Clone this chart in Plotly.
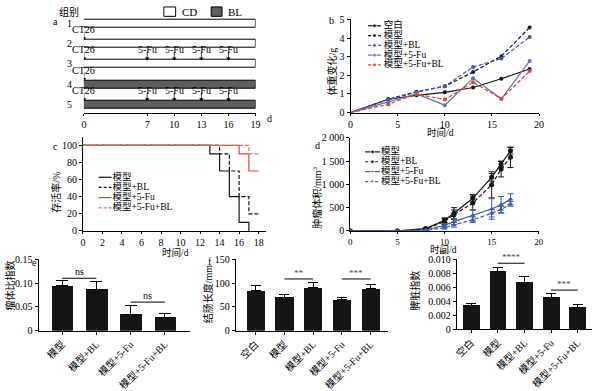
import plotly.graph_objects as go

W, H = 600, 391
FONT = "Liberation Serif, 'Noto Sans CJK SC', serif"

# ---------------- data ----------------
# panel a (experiment timeline)
a_groups = [1, 2, 3, 4, 5]
a_group_labels = ["1", "2", "3", "4", "5"]
a_diet = ["CD", "CD", "CD", "BL", "BL"]
a_end_day = 19
a_ct26_groups = [2, 3, 4, 5]
a_fu_groups = [3, 5]
a_fu_days = [7, 10, 13, 16]
a_ticks = [0, 7, 10, 13, 16, 19]

# panel b (body weight change, g)
b_days = [0, 4, 7, 10, 13, 16, 19]
b_names = ["空白", "模型", "模型+BL", "模型+5-Fu", "模型+5-Fu+BL"]
b_blank = [0, 0.72, 0.93, 1.09, 1.35, 1.82, 2.34]
b_model = [0, 0.72, 1.12, 1.42, 2.18, 3.03, 4.57]
b_model_bl = [0, 0.70, 1.10, 1.42, 2.45, 2.90, 4.06]
b_model_fu = [0, 0.55, 1.00, 0.40, 1.85, 0.74, 2.77]
b_model_fu_bl = [0, 0.45, 1.00, 0.70, 1.63, 0.74, 2.23]

# panel c (survival %, step curves)
c_names = ["模型", "模型+BL", "模型+5-Fu", "模型+5-Fu+BL"]
c_model_t = [0, 13, 14, 15, 16, 17]
c_model_s = [100, 90, 70, 40, 10, 0]
c_model_bl_t = [0, 14, 15, 16, 17, 18]
c_model_bl_s = [100, 90, 70, 40, 20, 20]
c_model_fu_t = [0, 16, 17, 18]
c_model_fu_s = [100, 90, 70, 70]
c_model_fu_bl_t = [0, 17, 18]
c_model_fu_bl_s = [100, 90, 90]

# panel d (tumour volume, mm3)
d_days = [0, 5, 8, 10, 11, 13, 15, 16, 17]
d_names = ["模型", "模型+BL", "模型+5-Fu", "模型+5-Fu+BL"]
d_model = [0, 0, 50, 230, 380, 700, 1150, 1430, 1720]
d_model_err = [0, 0, 15, 50, 120, 80, 80, 60, 70]
d_model_bl = [0, 0, 40, 200, 350, 600, 990, 1330, 1580]
d_model_bl_err = [0, 0, 15, 60, 100, 150, 280, 170, 220]
d_model_fu = [0, 0, 20, 120, 200, 330, 470, 560, 680]
d_model_fu_err = [0, 0, 10, 40, 60, 120, 220, 180, 120]
d_model_fu_bl = [0, 0, 10, 70, 130, 240, 380, 460, 580]
d_model_fu_bl_err = [0, 0, 8, 30, 50, 60, 80, 70, 50]
d_ticks = [0, 500, 1000, 1500, 2000]
d_ticktext = ["0", "500", "1 000", "1 500", "2 000"]

# panel e (tumour/body index)
e_cats = ["模型", "模型+BL", "模型+5-Fu", "模型+5-Fu+BL"]
e_vals = [0.094, 0.087, 0.034, 0.028]
e_err = [0.011, 0.017, 0.019, 0.009]
e_sig = [(0, 1, 0.110, "ns"), (2, 3, 0.060, "ns")]

# panel f (colon length, mm)
f_cats = ["空白", "模型", "模型+BL", "模型+5-Fu", "模型+5-Fu+BL"]
f_vals = [83.5, 69.7, 90.0, 64.5, 87.5]
f_err = [11.5, 5.3, 10.6, 6.0, 8.5]
f_sig = [(1, 2, 108.5, "**"), (3, 4, 108.5, "***")]

# panel g (spleen index)
g_cats = ["空白", "模型", "模型+BL", "模型+5-Fu", "模型+5-Fu+BL"]
g_vals = [0.00333, 0.0083, 0.0067, 0.0045, 0.0031]
g_err = [0.0003, 0.0006, 0.0009, 0.0006, 0.0005]
g_sig = [(1, 2, 0.00946, "****"), (3, 4, 0.0056, "***")]

# ---------------- helpers ----------------
BLACK = "#151515"
BLUE = "#3d5dab"
SLATE = "#6373b0"
RED = "#dc4439"
GRAY = "#5e5e5e"


def dx(p0, p1):
    return [p0 / W, p1 / W]


def dy(top, bottom):
    return [1 - bottom / H, 1 - top / H]


fig = go.Figure()
anns = []
shapes = []


def ann(x, y, text, size=10, angle=0, xanchor="center", yanchor="middle", color="black", **kw):
    d = dict(x=x / W, y=1 - y / H, xref="paper", yref="paper", text=text, showarrow=False,
             font=dict(family=FONT, size=size, color=color), textangle=angle,
             xanchor=xanchor, yanchor=yanchor)
    d.update(kw)
    anns.append(d)


def axis_style(**kw):
    d = dict(showline=True, linecolor="black", linewidth=1, ticks="outside", ticklen=3,
             tickwidth=1, tickcolor="black", showgrid=False, zeroline=False,
             tickfont=dict(family=FONT, size=10, color="black"), fixedrange=True)
    d.update(kw)
    return d


# ---------------- panel a ----------------
fig.add_trace(go.Bar(
    y=a_groups, x=[a_end_day] * len(a_groups), base=0, orientation="h", width=0.39,
    marker=dict(color=["white" if d == "CD" else GRAY for d in a_diet],
                line=dict(color="black", width=1)),
    xaxis="x", yaxis="y", showlegend=False, hoverinfo="skip"))

bar_half = 0.195
arrow_x, arrow_y, arrow_lbl = [], [], []
for g in a_ct26_groups:
    arrow_x.append(0)
    arrow_y.append(g - bar_half)
    arrow_lbl.append("CT26")
for g in a_fu_groups:
    for d in a_fu_days:
        arrow_x.append(d)
        arrow_y.append(g - bar_half)
        arrow_lbl.append("5-Fu")
for xv, yv, lbl in zip(arrow_x, arrow_y, arrow_lbl):
    shapes.append(dict(type="line", xref="x", yref="y", x0=xv, x1=xv, y0=yv - 0.40, y1=yv - 0.05,
                       line=dict(color="black", width=0.8)))
    anns.append(dict(x=xv, y=yv, xref="x", yref="y", text=lbl, showarrow=False,
                     yshift=10, font=dict(family=FONT, size=10, color="black")))
fig.add_trace(go.Scatter(x=arrow_x, y=[v - 0.07 for v in arrow_y], mode="markers",
                         marker=dict(symbol="triangle-down", size=4, color="black"),
                         xaxis="x", yaxis="y", showlegend=False, hoverinfo="skip"))

ann(67, 6, "组别", 10)
ann(53, 17, "a", 10)
ann(270, 120, "d", 10)
shapes.append(dict(type="rect", xref="paper", yref="paper", x0=163 / W, x1=175 / W,
                   y0=1 - 11 / H, y1=1 - 1 / H, line=dict(color="black", width=1), fillcolor="white"))
shapes.append(dict(type="rect", xref="paper", yref="paper", x0=211 / W, x1=222 / W,
                   y0=1 - 11 / H, y1=1 - 1 / H, line=dict(color="black", width=1), fillcolor=GRAY))
ann(179, 6, "CD", 11, xanchor="left")
ann(226, 6, "BL", 11, xanchor="left")

# ---------------- panel b ----------------
b_series = [
    (b_names[0], b_blank, BLACK, "solid"),
    (b_names[1], b_model, BLACK, "dash"),
    (b_names[2], b_model_bl, BLUE, "dash"),
    (b_names[3], b_model_fu, SLATE, "solid"),
    (b_names[4], b_model_fu_bl, RED, "dash"),
]
for name, vals, col, dash in b_series:
    fig.add_trace(go.Scatter(x=b_days, y=vals, mode="lines+markers", name=name,
                             line=dict(color=col, width=1.2, dash="4px,2px" if dash == "dash" else "solid"),
                             marker=dict(size=4, color=col), xaxis="x2", yaxis="y2",
                             showlegend=False, hoverinfo="skip"))

# ---------------- panel c ----------------
c_series = [
    (c_names[0], c_model_t, c_model_s, BLACK, "solid"),
    (c_names[1], c_model_bl_t, c_model_bl_s, BLACK, "dash"),
    (c_names[2], c_model_fu_t, c_model_fu_s, RED, "solid"),
    (c_names[3], c_model_fu_bl_t, c_model_fu_bl_s, "#e76a60", "dash"),
]
for name, t, s, col, dash in c_series:
    fig.add_trace(go.Scatter(x=t, y=s, mode="lines", line_shape="hv", name=name,
                             line=dict(color=col, width=1.2, dash="4px,2px" if dash == "dash" else "solid"),
                             xaxis="x3", yaxis="y3", showlegend=False, hoverinfo="skip"))

# ---------------- panel d ----------------
d_series = [
    (d_names[0], d_model, d_model_err, BLACK, "solid", "circle"),
    (d_names[1], d_model_bl, d_model_bl_err, BLACK, "dash", "circle"),
    (d_names[2], d_model_fu, d_model_fu_err, BLUE, "solid", "triangle-up"),
    (d_names[3], d_model_fu_bl, d_model_fu_bl_err, BLUE, "dash", "triangle-up"),
]
for name, vals, err, col, dash, sym in d_series:
    fig.add_trace(go.Scatter(x=d_days, y=vals, mode="lines+markers", name=name,
                             line=dict(color=col, width=1.2, dash="4px,2px" if dash == "dash" else "solid"),
                             marker=dict(size=5, color=col, symbol=sym),
                             error_y=dict(type="data", array=err, color=col, thickness=1, width=3),
                             xaxis="x4", yaxis="y4", showlegend=False, hoverinfo="skip"))

# ---------------- bar panels ----------------
def bar_panel(cats, vals, err, sig, ax, ay, cap):
    n = len(cats)
    fig.add_trace(go.Bar(x=cats, y=vals, width=0.63, marker=dict(color=BLACK, line=dict(width=0)),
                         error_y=dict(type="data", array=err, arrayminus=[0] * n, symmetric=False,
                                      color="black", thickness=1, width=cap),
                         xaxis=ax, yaxis=ay, showlegend=False, hoverinfo="skip"))
    for i, j, lvl, txt in sig:
        shapes.append(dict(type="line", xref=ax, yref=ay, x0=i, x1=j, y0=lvl, y1=lvl,
                           line=dict(color="black", width=1)))
        anns.append(dict(x=(i + j) / 2, y=lvl, xref=ax, yref=ay, text=txt, showarrow=False,
                         yanchor="bottom", yshift=-1,
                         font=dict(family=FONT, size=10 if txt == "ns" else 9,
                                   color="black" if txt == "ns" else "#444")))


bar_panel(e_cats, e_vals, e_err, e_sig, "x5", "y5", 6)
bar_panel(f_cats, f_vals, f_err, f_sig, "x6", "y6", 5)
bar_panel(g_cats, g_vals, g_err, g_sig, "x7", "y7", 5)

# ---------------- manual legends (text as a library text trace) ----------------
def add_legend(entries, x0, x1, ytop, step, tx, markers=True):
    ys = []
    for k, (name, col, dash, sym) in enumerate(entries):
        y = ytop + k * step
        ys.append(y)
        fig.add_trace(go.Scatter(x=[x0, (x0 + x1) / 2, x1], y=[y, y, y],
                                 mode="lines+markers" if markers else "lines",
                                 line=dict(color=col, width=1.2, dash="3px,2px" if dash == "dash" else "solid"),
                                 marker=dict(size=[0, 4, 0], color=col, symbol=sym),
                                 xaxis="x8", yaxis="y8", showlegend=False, hoverinfo="skip"))
    fig.add_trace(go.Scatter(x=[tx] * len(entries), y=ys, mode="text",
                             text=[e[0] for e in entries], textposition="middle right",
                             textfont=dict(family=FONT, size=9.5, color="black"),
                             xaxis="x8", yaxis="y8", showlegend=False, hoverinfo="skip"))


add_legend([(n, c, d, "circle") for n, v, c, d in b_series], 370, 383, 21, 10.4, 386)
add_legend([(n, c, d, "circle") for n, t, s, c, d in c_series], 97, 110, 182, 10.8, 111, markers=False)
add_legend([(n, c, d, sym) for n, v, e, c, d, sym in d_series], 367, 382, 155, 10.5, 383)

# ---------------- titles / panel letters ----------------
ann(333, 15, "b", 10)
ann(333, 70, "体重变化/g", 10, angle=-90)
ann(443, 134, "时间/d", 9.5)
ann(53, 149, "c", 10)
ann(54, 198, "存活率/%", 10, angle=-90)
ann(175, 262, "时间/d", 9.5)
ann(319, 148, "d", 10)
ann(318, 204, "肿瘤体积/mm<sup>3</sup>", 10, angle=-90)
ann(446, 259, "时间/d", 9.5)
ann(32, 272, "e", 10)
ann(7, 297, "瘤体比指数", 10, angle=-90)
ann(210, 271, "f", 10)
ann(208, 306, "结肠长度/mm", 10, angle=-90)
ann(444, 262, "g", 9, angle=-90)
ann(418, 302, "脾脏指数", 10, angle=-90)

# ---------------- layout ----------------
cat_font = dict(family=FONT, size=10, color="black")
fig.update_layout(
    width=W, height=H, autosize=False,
    margin=dict(l=0, r=0, t=0, b=0, pad=0),
    paper_bgcolor="white", plot_bgcolor="rgba(0,0,0,0)",
    font=dict(family=FONT, size=10, color="black"),
    showlegend=False,
    bargap=0,
    # a
    xaxis=axis_style(domain=dx(82, 256), range=[0, 19], tickvals=a_ticks, anchor="y", ticklen=2),
    yaxis=dict(domain=dy(5, 114), range=[5.426, 0.384], tickvals=a_groups, ticktext=a_group_labels,
               showline=False, ticks="", showgrid=False, zeroline=False, ticklabelstandoff=11,
               tickfont=dict(family=FONT, size=10, color="black"), anchor="x", fixedrange=True),
    # b
    xaxis2=axis_style(domain=dx(352.3, 543.3), range=[0, 20], dtick=5, anchor="y2", ticklen=2),
    yaxis2=axis_style(domain=dy(14.3, 113.3), range=[0, 5], dtick=1, anchor="x2"),
    # c
    xaxis3=axis_style(domain=dx(81, 267), range=[0, 18.8], tickvals=list(range(0, 19, 2)), anchor="y3", ticklen=2),
    yaxis3=axis_style(domain=dy(138.9, 239), range=[0, 110], tickvals=list(range(0, 101, 20)), anchor="x3"),
    # d
    xaxis4=axis_style(domain=dx(352, 543), range=[0, 20], dtick=5, anchor="y4", ticklen=2,
                      tickfont=dict(family=FONT, size=9, color="black")),
    yaxis4=axis_style(domain=dy(140, 239), range=[0, 2000], tickvals=d_ticks, ticktext=d_ticktext, anchor="x4"),
    # e
    xaxis5=axis_style(domain=dx(36, 190), type="category", range=[-0.69, 3.75], tickangle=-45,
                      tickfont=cat_font, anchor="y5"),
    yaxis5=axis_style(domain=dy(269, 345), range=[0, 0.15], tickvals=[0, 0.05, 0.10, 0.15],
                      ticktext=["0", "0.05", "0.10", "0.15"], anchor="x5"),
    # f
    xaxis6=axis_style(domain=dx(236, 390), type="category", range=[-0.69, 4.6], tickangle=-45,
                      tickfont=cat_font, anchor="y6"),
    yaxis6=axis_style(domain=dy(269, 345), range=[0, 150], tickvals=[0, 50, 100, 150], anchor="x6"),
    # g
    xaxis7=axis_style(domain=dx(460, 597), type="category", range=[-0.54, 4.54], tickangle=-45,
                      tickfont=cat_font, anchor="y7"),
    yaxis7=axis_style(domain=dy(269.3, 343.3), range=[0, 0.010],
                      tickvals=[0, 0.002, 0.004, 0.006, 0.008, 0.010],
                      ticktext=["0", "0.002", "0.004", "0.006", "0.008", "0.010"], anchor="x7"),
    # overlay (pixel space) for legend samples
    xaxis8=dict(domain=[0, 1], range=[0, W], visible=False, anchor="y8", fixedrange=True),
    yaxis8=dict(domain=[0, 1], range=[H, 0], visible=False, anchor="x8", fixedrange=True),
    annotations=anns,
    shapes=shapes,
)

fig.write_html("out.html", config={"displayModeBar": False},
               post_script="document.body.style.margin='0px';document.body.style.overflow='hidden';")
